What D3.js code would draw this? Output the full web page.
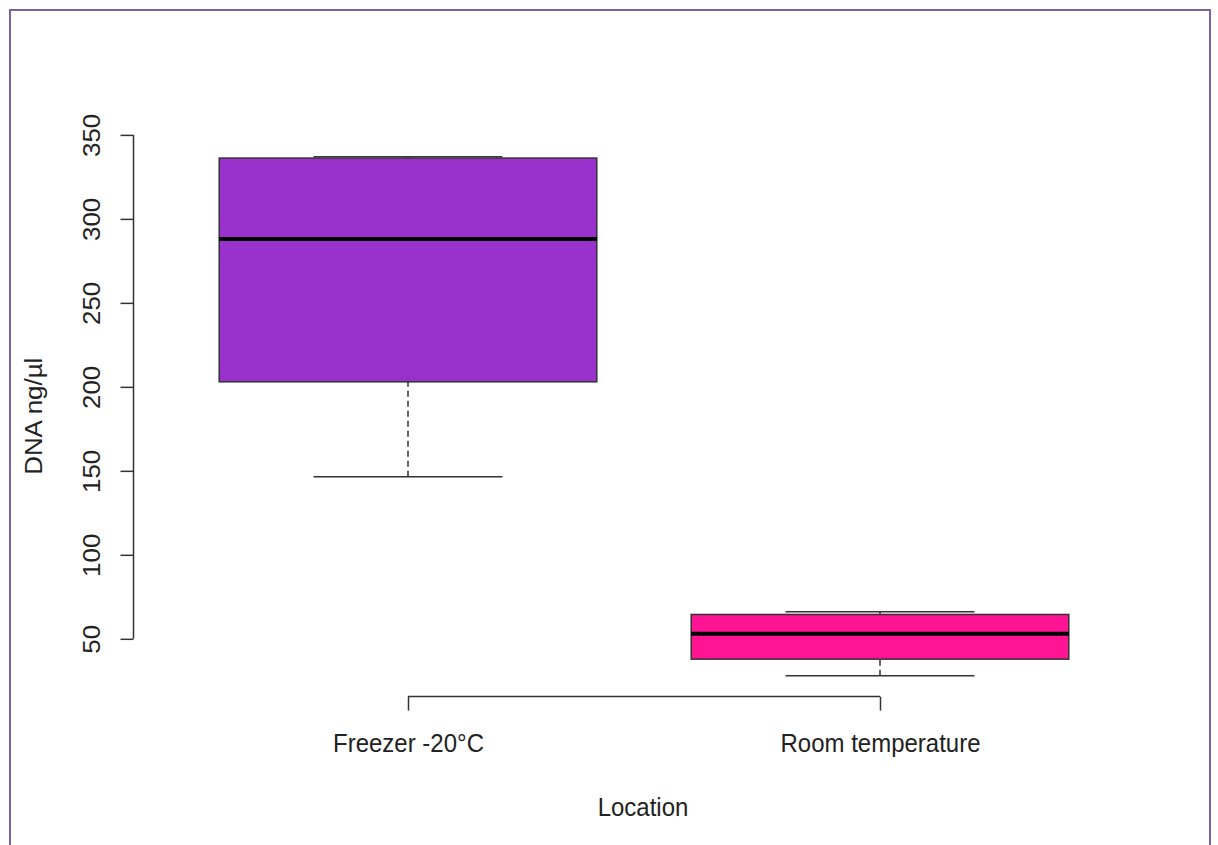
<!DOCTYPE html>
<html>
<head>
<meta charset="utf-8">
<script src="https://cdn.jsdelivr.net/npm/d3@7"></script>
<style>
  html, body { margin: 0; padding: 0; background: #fff; }
  svg { display: block; }
  text { font-family: "Liberation Sans", Arial, sans-serif; fill: #222; }
</style>
</head>
<body>
<svg id="chart" width="1218" height="845"></svg>
<script>
// Boxplot summary per storage location
const categories = ["Freezer -20°C", "Room temperature"];
const whiskerLow = [146.5, 28.0];
const q1 = [203.0, 37.9];
const median = [288.0, 53.0];
const q3 = [336.2, 64.5];
const whiskerHigh = [337.0, 66.1];
const fills = ["#9932CC", "#FF1493"];
const yTicks = [50, 100, 150, 200, 250, 300, 350];

const boxes = categories.map((c, i) => ({
  name: c, lo: whiskerLow[i], q1: q1[i], med: median[i], q3: q3[i], hi: whiskerHigh[i], fill: fills[i]
}));

const svg = d3.select("#chart");
const textStretch = 1.08;   // glyphs are slightly taller than wide

// outer frame
svg.append("rect")
  .attr("x", 10).attr("y", 10)
  .attr("width", 1200).attr("height", 850)
  .attr("fill", "none")
  .attr("stroke", "#7a62a8")
  .attr("stroke-width", 2);

// plot region
const plotLeft = 172, plotRight = 1116, plotTop = 135.9, plotBottom = 696.6;
const yMin = 15.6, yMax = 349.4;

const x = d3.scaleLinear().domain([0.5, 2.5]).range([plotLeft, plotRight]);
const y = d3.scaleLinear().domain([yMin, yMax]).range([plotBottom, plotTop]);

const boxW = 0.8;   // in x units
const capW = 0.4;

const g = svg.append("g");

boxes.forEach((b, i) => {
  const cx = i + 1;
  const bg = g.append("g");
  // dashed whiskers
  bg.append("line")
    .attr("x1", x(cx)).attr("x2", x(cx))
    .attr("y1", y(b.lo)).attr("y2", y(b.q1))
    .attr("stroke", "#333").attr("stroke-width", 1.5)
    .attr("stroke-dasharray", "6,4");
  bg.append("line")
    .attr("x1", x(cx)).attr("x2", x(cx))
    .attr("y1", y(b.q3)).attr("y2", y(b.hi))
    .attr("stroke", "#333").attr("stroke-width", 1.5)
    .attr("stroke-dasharray", "6,4");
  // whisker caps
  [b.lo, b.hi].forEach(v => {
    bg.append("line")
      .attr("x1", x(cx - capW / 2)).attr("x2", x(cx + capW / 2))
      .attr("y1", y(v)).attr("y2", y(v))
      .attr("stroke", "#333").attr("stroke-width", 1.5);
  });
  // box
  bg.append("rect")
    .attr("x", x(cx - boxW / 2))
    .attr("y", y(b.q3))
    .attr("width", x(cx + boxW / 2) - x(cx - boxW / 2))
    .attr("height", y(b.q1) - y(b.q3))
    .attr("fill", b.fill)
    .attr("stroke", "#333").attr("stroke-width", 1.5);
  // median
  bg.append("line")
    .attr("x1", x(cx - boxW / 2)).attr("x2", x(cx + boxW / 2))
    .attr("y1", y(b.med)).attr("y2", y(b.med))
    .attr("stroke", "#000").attr("stroke-width", 4);
});

// y axis
const axisX = 133.5;
const yAxis = d3.axisLeft(y).tickValues(yTicks).tickSize(13).tickSizeOuter(0).tickPadding(0);
const ya = svg.append("g").attr("transform", `translate(${axisX},0)`).call(yAxis);
ya.select(".domain").remove();
ya.append("line")
  .attr("x1", 0).attr("x2", 0)
  .attr("y1", y(yTicks[0])).attr("y2", y(yTicks[yTicks.length - 1]))
  .attr("stroke", "#333").attr("stroke-width", 1.5);
ya.selectAll(".tick line").attr("stroke", "#333").attr("stroke-width", 1.5);
ya.selectAll(".tick text")
  .attr("x", 0).attr("y", 0).attr("dy", null)
  .attr("transform", `translate(${100 - axisX},0) scale(1,${textStretch}) rotate(-90)`)
  .attr("text-anchor", "middle")
  .style("font-family", "'Liberation Sans', Arial, sans-serif")
  .style("font-size", "24px")
  .style("fill", "#222");

// x axis
const xAxis = d3.axisBottom(x).tickValues([1, 2]).tickFormat(d => categories[d - 1]).tickSize(14).tickSizeOuter(0);
const xa = svg.append("g").attr("transform", `translate(0,${plotBottom})`).call(xAxis);
xa.select(".domain").remove();
xa.append("line")
  .attr("x1", x(1)).attr("x2", x(2))
  .attr("y1", 0).attr("y2", 0)
  .attr("stroke", "#333").attr("stroke-width", 1.5);
xa.selectAll(".tick line").attr("stroke", "#333").attr("stroke-width", 1.5);
xa.selectAll(".tick text")
  .attr("y", 0).attr("dy", null)
  .attr("transform", `translate(0,${752 - plotBottom}) scale(1,${textStretch})`)
  .style("font-family", "'Liberation Sans', Arial, sans-serif")
  .style("font-size", "24px")
  .style("fill", "#222");

// axis titles
svg.append("text")
  .attr("transform", `translate(643,816) scale(1,${textStretch})`)
  .attr("text-anchor", "middle")
  .style("font-size", "24px")
  .text("Location");

svg.append("text")
  .attr("transform", `translate(42,${(plotTop + plotBottom) / 2}) scale(1,${textStretch}) rotate(-90)`)
  .attr("text-anchor", "middle")
  .style("font-size", "24px")
  .text("DNA ng/µl");
</script>
</body>
</html>
